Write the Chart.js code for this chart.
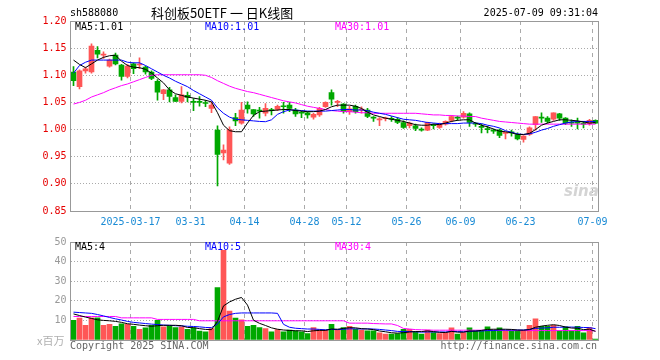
<!DOCTYPE html>
<html>
<head>
<meta charset="utf-8">
<script src="https://cdn.jsdelivr.net/npm/chart.js@4.4.1/dist/chart.umd.min.js"></script>
<style>
body{margin:0;background:#fff;width:660px;height:360px;position:relative;overflow:hidden;font-family:"DejaVu Sans Mono",monospace;font-size:10px}
canvas{position:absolute;left:0}
#kline{top:0}
#vol{top:232px}
.t{position:absolute;white-space:nowrap;line-height:12px}
</style>
</head>
<body>
<canvas id="kline" width="660" height="232"></canvas>
<canvas id="vol" width="660" height="128"></canvas>

<div class="t" style="left:70px;top:7px">sh588080</div>
<div class="t" style="left:151px;top:4px;font-family:'Noto Sans CJK SC';font-size:13px;line-height:17px">科创板50ETF 一 日K线图</div>
<div class="t" style="right:62px;top:7px">2025-07-09 09:31:04</div>

<div class="t" style="left:75px;top:21px;color:#000">MA5:1.01</div>
<div class="t" style="left:205px;top:21px;color:#0000ff">MA10:1.01</div>
<div class="t" style="left:335px;top:21px;color:#ff00ff">MA30:1.01</div>
<div class="t" style="left:564px;top:183px;font-family:'DejaVu Sans';font-style:italic;font-weight:bold;font-size:15px;line-height:16px;color:#d4d4d4">sina</div>

<div class="t" style="left:75px;top:241px;color:#000">MA5:4</div>
<div class="t" style="left:205px;top:241px;color:#0000ff">MA10:5</div>
<div class="t" style="left:335px;top:241px;color:#ff00ff">MA30:4</div>

<div class="t" style="left:37px;top:334px;font-family:'Noto Sans CJK SC';font-size:11px;line-height:13px;color:#b0b0b0">x百万</div>
<div class="t" style="left:70px;top:340px;color:#666">Copyright 2025 SINA.COM</div>
<div class="t" style="right:63px;top:340px;color:#666">http://finance.sina.com.cn</div>

<script>
// 日付 (2025年の取引日)
var dates = [
  '03-03','03-04','03-05','03-06','03-07','03-10','03-11','03-12','03-13','03-14',
  '03-17','03-18','03-19','03-20','03-21','03-24','03-25','03-26','03-27','03-28','03-31',
  '04-01','04-02','04-03','04-07','04-08','04-09','04-10','04-11','04-14','04-15',
  '04-16','04-17','04-18','04-21','04-22','04-23','04-24','04-25','04-28','04-29','04-30',
  '05-06','05-07','05-08','05-09','05-12','05-13','05-14','05-15','05-16','05-19',
  '05-20','05-21','05-22','05-23','05-26','05-27','05-28','05-29','05-30',
  '06-03','06-04','06-05','06-06','06-09','06-10','06-11','06-12','06-13','06-16',
  '06-17','06-18','06-19','06-20','06-23','06-24','06-25','06-26','06-27','06-30',
  '07-01','07-02','07-03','07-04','07-07','07-08','07-09'
];

// x軸の目盛り
var tickDates = ['03-17','03-31','04-14','04-28','05-12','05-26','06-09','06-23','07-09'];
var tickTexts = ['2025-03-17','03-31','04-14','04-28','05-12','05-26','06-09','06-23','07-09'];

// 四本値
var opens = [
  1.106,1.079,1.108,1.106,1.146,1.137,1.117,1.137,1.119,1.098,
  1.121,1.119,1.115,1.106,1.089,1.066,1.073,1.059,1.052,1.063,
  1.051,1.051,1.049,1.039,0.999,0.957,0.938,1.022,1.012,1.045,
  1.037,1.035,1.030,1.036,1.037,1.043,1.045,1.036,1.031,1.031,
  1.023,1.027,1.042,1.068,1.050,1.047,1.033,1.043,1.036,1.036,
  1.022,1.018,1.020,1.020,1.019,1.013,1.007,1.007,1.000,0.999,
  1.008,1.004,1.010,1.017,1.022,1.023,1.029,1.011,1.005,1.001,
  0.998,0.999,0.993,0.995,0.991,0.982,0.991,1.009,1.022,1.021,
  1.019,1.029,1.021,1.013,1.013,1.011,1.011,1.017
];
var highs = [
  1.116,1.110,1.115,1.158,1.153,1.143,1.130,1.141,1.120,1.120,
  1.123,1.132,1.117,1.108,1.092,1.074,1.078,1.064,1.079,1.069,
  1.057,1.061,1.054,1.051,1.007,0.972,1.005,1.030,1.050,1.051,
  1.037,1.041,1.048,1.039,1.045,1.050,1.050,1.039,1.034,1.033,
  1.030,1.041,1.051,1.073,1.054,1.048,1.043,1.045,1.042,1.039,
  1.024,1.022,1.023,1.024,1.022,1.016,1.014,1.010,1.003,1.014,
  1.010,1.012,1.016,1.026,1.025,1.033,1.031,1.013,1.010,1.006,
  1.001,1.001,0.995,0.999,0.994,0.989,1.005,1.024,1.031,1.024,
  1.031,1.030,1.022,1.018,1.021,1.015,1.019,1.018
];
var lows = [
  1.081,1.075,1.104,1.104,1.132,1.131,1.115,1.119,1.091,1.095,
  1.103,1.112,1.102,1.092,1.054,1.055,1.051,1.052,1.049,1.051,
  1.035,1.043,1.042,1.031,0.896,0.944,0.936,1.007,1.010,1.030,
  1.024,1.021,1.025,1.027,1.035,1.030,1.033,1.024,1.022,1.021,
  1.019,1.024,1.041,1.045,1.042,1.030,1.028,1.030,1.030,1.022,
  1.015,1.007,1.016,1.015,1.011,1.002,1.003,0.998,0.997,0.998,
  1.001,1.002,1.008,1.014,1.017,1.021,1.006,1.006,0.994,0.994,
  0.993,0.985,0.983,0.988,0.981,0.977,0.989,0.999,1.013,1.012,
  1.017,1.017,1.009,1.006,1.001,1.003,1.008,1.011
];
var closes = [
  1.090,1.108,1.112,1.154,1.139,1.139,1.128,1.121,1.098,1.117,
  1.112,1.120,1.106,1.094,1.069,1.073,1.061,1.052,1.064,1.059,
  1.050,1.050,1.048,1.045,0.954,0.962,1.000,1.016,1.036,1.038,
  1.029,1.034,1.039,1.035,1.043,1.042,1.039,1.029,1.030,1.027,
  1.028,1.039,1.050,1.056,1.051,1.033,1.038,1.033,1.037,1.024,
  1.021,1.019,1.021,1.019,1.013,1.004,1.012,1.002,0.999,1.013,
  1.007,1.010,1.015,1.024,1.021,1.030,1.013,1.010,1.004,1.000,
  0.997,0.989,0.994,0.994,0.983,0.988,1.003,1.024,1.021,1.015,
  1.031,1.021,1.012,1.012,1.012,1.010,1.017,1.012
];

// 移動平均 (チャートから読み取り)
var ma5 = [
  1.128,1.120,1.114,1.121,1.128,1.133,1.136,1.137,1.126,1.118,
  1.115,1.114,1.111,1.104,1.095,1.086,1.073,1.066,1.063,1.060,
  1.058,1.056,1.054,1.051,1.031,1.008,0.998,0.996,0.996,1.012,
  1.026,1.033,1.034,1.035,1.036,1.037,1.037,1.035,1.034,1.033,
  1.033,1.034,1.037,1.042,1.045,1.045,1.045,1.043,1.039,1.032,
  1.027,1.024,1.021,1.019,1.017,1.015,1.012,1.009,1.008,1.008,
  1.010,1.009,1.012,1.015,1.017,1.018,1.018,1.012,1.008,1.005,
  1.001,0.997,0.996,0.994,0.991,0.991,0.993,1.000,1.008,1.012,
  1.015,1.018,1.018,1.017,1.016,1.014,1.012,1.013
];
var ma10 = [
  1.104,1.118,1.124,1.128,1.128,1.128,1.128,1.128,1.128,1.124,
  1.123,1.123,1.118,1.112,1.106,1.100,1.095,1.089,1.084,1.079,
  1.072,1.066,1.060,1.054,1.040,1.030,1.023,1.019,1.018,1.017,
  1.016,1.015,1.0145,1.018,1.028,1.033,1.036,1.036,1.035,1.034,
  1.034,1.034,1.034,1.035,1.036,1.037,1.037,1.036,1.036,1.035,
  1.032,1.030,1.028,1.025,1.022,1.019,1.018,1.017,1.015,1.013,
  1.012,1.011,1.011,1.011,1.011,1.012,1.012,1.012,1.011,1.008,
  1.006,1.003,0.998,0.995,0.992,0.991,0.992,0.995,0.999,1.002,
  1.006,1.009,1.012,1.014,1.015,1.015,1.015,1.015
];
var ma30 = [
  1.047,1.050,1.054,1.060,1.064,1.068,1.073,1.077,1.081,1.084,
  1.088,1.092,1.096,1.100,1.101,1.101,1.101,1.101,1.101,1.101,
  1.101,1.101,1.100,1.096,1.090,1.085,1.080,1.076,1.073,1.070,
  1.068,1.065,1.062,1.059,1.056,1.053,1.051,1.049,1.046,1.043,
  1.041,1.039,1.037,1.035,1.034,1.033,1.033,1.032,1.031,1.031,
  1.030,1.030,1.030,1.030,1.030,1.030,1.030,1.030,1.029,1.028,
  1.027,1.027,1.026,1.026,1.025,1.025,1.024,1.024,1.021,1.019,
  1.017,1.015,1.014,1.013,1.012,1.011,1.010,1.010,1.010,1.010,
  1.010,1.010,1.010,1.010,1.010,1.010,1.010,1.010
];

// 出来高 (百万)
var volumes = [
  10,11.2,7.5,11.3,11.3,7.5,8,7,8.3,8,
  7,5.5,6.2,7.5,10,6.7,7.2,6.3,6.7,5.5,
  6.2,4.5,4.2,5.8,26.7,45.8,14.7,11.2,10.3,7,
  7.5,6.3,5.8,4.2,5.3,4.2,5,4.7,4.2,3.3,
  6.3,5.3,5,8,5,6.3,7,5.5,5,4.7,
  4.7,3.7,3,3,3.3,5.5,5.5,4.2,3,5,
  3.8,3.3,3.8,6.2,3,3.8,6.2,4.7,4.7,6.7,
  5,6.2,4.7,4.7,4.7,4.7,7.5,10.8,7,7,
  7.5,4.7,6.7,4.7,7,3.7,6.3,0.5
];
var volMa5 = [
  13.3,12.5,11.7,11.0,10.3,10.0,9.8,9.5,9.0,8.3,
  8.0,7.6,7.3,7.0,7.3,7.5,7.5,7.5,7.3,6.4,
  6.3,5.8,5.4,5.3,9.5,17.4,19.4,20.8,21.7,17.8,
  10.1,8.5,7.4,6.2,5.5,5.1,4.9,4.7,4.7,4.3,
  4.7,4.9,4.9,5.6,5.5,5.9,6.3,6.2,5.8,5.6,
  5.3,4.6,4.2,3.7,3.5,3.7,4.1,4.3,4.3,4.6,
  4.3,3.9,3.8,4.4,4.0,4.0,4.6,4.5,4.9,5.4,
  5.5,5.5,5.5,5.4,5.1,5.0,5.3,6.5,7.1,7.5,
  7.8,7.4,6.6,6.1,6.0,5.3,5.5,4.4
];
var volMa10 = [
  14.2,14.0,13.8,13.6,13.0,12.3,11.5,10.8,10.2,9.5,
  9.0,8.7,8.4,8.1,7.9,7.6,7.5,7.3,7.2,7.0,
  6.9,6.7,6.4,6.3,8.2,11.8,13.0,13.6,13.8,13.8,
  13.8,13.8,13.8,13.8,13.6,8.0,6.5,6.0,5.8,5.6,
  5.6,5.4,5.2,5.4,5.3,5.5,5.7,5.7,5.6,5.7,
  5.6,5.4,5.1,4.8,4.4,4.3,4.3,4.2,4.0,4.1,
  4.1,4.1,4.1,4.4,4.3,4.2,4.3,4.6,4.6,4.8,
  4.8,5.1,5.1,5.1,5.1,5.1,5.4,5.9,6.1,6.2,
  6.5,6.5,6.6,6.6,6.5,6.4,6.3,5.8
];
var volMa30 = [
  12.0,12.0,12.0,12.0,12.0,12.0,12.0,12.0,11.3,11.3,
  11.3,11.3,11.3,11.3,10.5,10.5,10.5,10.5,10.5,10.5,
  10.5,9.8,9.8,9.8,9.8,9.8,9.8,9.8,9.8,9.8,
  9.8,9.8,9.8,9.8,9.8,9.8,9.8,9.8,9.8,9.8,
  9.8,9.8,9.8,9.8,9.8,9.8,8.6,8.6,8.6,8.6,
  8.4,8.3,8.2,8.2,7.4,5.9,5.6,5.3,5.2,5.1,
  5.0,5.0,5.0,5.0,5.0,5.0,5.0,5.0,5.0,5.0,
  5.0,4.9,4.9,4.8,4.8,4.8,4.8,4.8,4.8,4.8,
  4.8,4.8,4.8,4.8,4.8,4.8,4.8,4.6
];

var UP = '#ff5656';
var DOWN = '#00a800';
var colors = closes.map((c, i) => c >= opens[i] ? UP : DOWN);

Chart.defaults.font.family = 'DejaVu Sans Mono';
Chart.defaults.font.size = 10;

// 枠線
const frame = {
  id: 'frame',
  afterDraw(chart) {
    const a = chart.chartArea, c = chart.ctx;
    const l = Math.floor(a.left) + 0.5, t = Math.floor(a.top) + 0.5;
    const r = Math.floor(a.right) + 0.5, b = Math.floor(a.bottom) + 0.5;
    c.save();
    c.strokeStyle = '#999';
    c.lineWidth = 1;
    c.strokeRect(l, t, r - l, b - t);
    c.restore();
  }
};

function xAxis(showLabels, height) {
  return {
    type: 'category',
    offset: true,
    grid: {
      offset: true,
      drawTicks: false,
      lineWidth: 1,
      color: ctx => tickDates.includes(dates[ctx.index]) ? '#aaa' : 'rgba(0,0,0,0)'
    },
    border: { display: false, dash: [4, 4] },
    ticks: {
      display: showLabels,
      autoSkip: false,
      maxRotation: 0,
      minRotation: 0,
      padding: 5,
      labelOffset: -3,
      color: '#1a8bd5',
      callback: (v, i) => {
        const j = tickDates.indexOf(dates[i]);
        return j < 0 ? '' : tickTexts[j];
      }
    },
    afterFit: s => { s.height = height; }
  };
}

function maLine(data, color) {
  return {
    type: 'line', data: data, borderColor: color, borderWidth: 1,
    pointRadius: 0, tension: 0, fill: false, order: 0
  };
}

// ローソク足
new Chart(document.getElementById('kline'), {
  type: 'bar',
  data: {
    labels: dates,
    datasets: [
      maLine(ma5, '#000000'),
      maLine(ma10, '#0000ff'),
      maLine(ma30, '#ff00ff'),
      {
        data: dates.map((d, i) => [opens[i], closes[i]]),
        backgroundColor: colors, barThickness: 5, minBarLength: 1,
        grouped: false, order: 1
      },
      {
        data: dates.map((d, i) => [lows[i], highs[i]]),
        backgroundColor: colors, barThickness: 1,
        grouped: false, order: 2
      }
    ]
  },
  options: {
    responsive: false, animation: false, devicePixelRatio: 1,
    layout: { padding: { top: 21, right: 61.5, left: 0.5, bottom: 0 } },
    plugins: { legend: { display: false }, tooltip: { enabled: false } },
    scales: {
      x: xAxis(true, 21),
      y: {
        min: 0.85, max: 1.2,
        grid: { drawTicks: false, color: '#aaa' },
        border: { display: false, dash: [1, 2] },
        ticks: { stepSize: 0.05, color: '#e60000', padding: 4, callback: v => v.toFixed(2) },
        afterFit: s => { s.width = 70; }
      }
    }
  },
  plugins: [frame]
});

// 出来高
new Chart(document.getElementById('vol'), {
  type: 'bar',
  data: {
    labels: dates,
    datasets: [
      maLine(volMa5, '#000000'),
      maLine(volMa10, '#0000ff'),
      maLine(volMa30, '#ff00ff'),
      { data: volumes, backgroundColor: colors, barThickness: 5, grouped: false, order: 1 }
    ]
  },
  options: {
    responsive: false, animation: false, devicePixelRatio: 1,
    layout: { padding: { top: 8, right: 61.5, left: 0.5, bottom: 0 } },
    plugins: { legend: { display: false }, tooltip: { enabled: false } },
    scales: {
      x: xAxis(false, 20),
      y: {
        min: 0, max: 50,
        grid: { drawTicks: false, color: '#aaa' },
        border: { display: false, dash: [1, 2] },
        ticks: { stepSize: 10, color: '#999', padding: 4, callback: v => v === 0 ? '' : v },
        afterFit: s => { s.width = 70; }
      }
    }
  },
  plugins: [frame]
});
</script>
</body>
</html>
